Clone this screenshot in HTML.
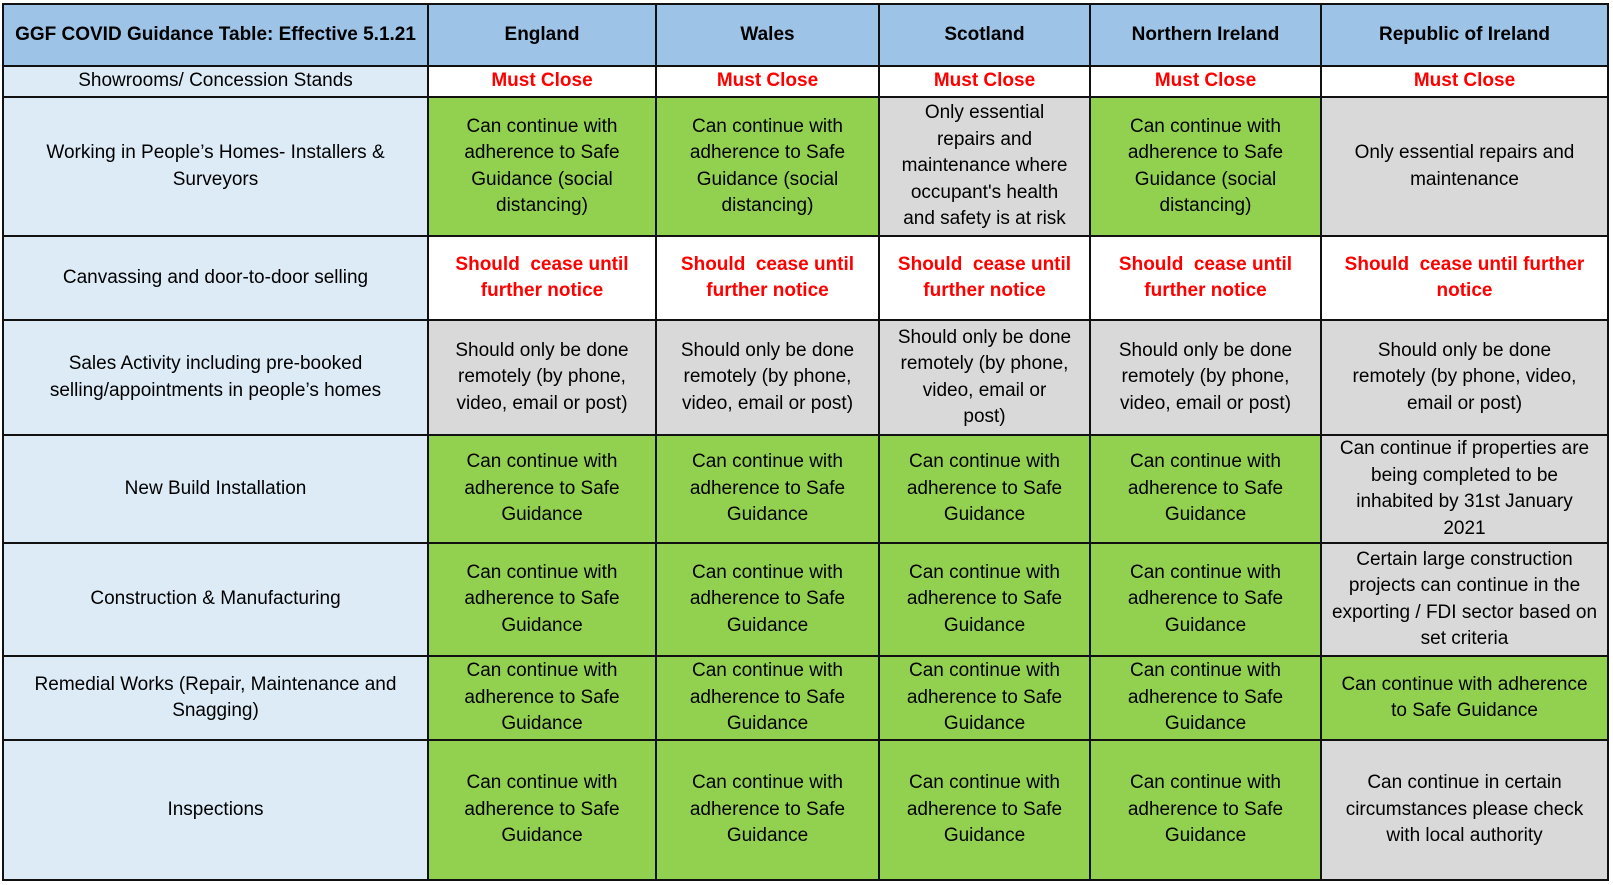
<!DOCTYPE html>
<html><head><meta charset="utf-8"><style>
html,body{margin:0;padding:0;background:#fff;width:1613px;height:885px;overflow:hidden}
table{position:absolute;left:2px;top:3px;border-collapse:collapse;table-layout:fixed;font-family:"Liberation Sans",sans-serif;font-size:19px;line-height:26.5px;color:#000}
td{border:2px solid #111;text-align:center;vertical-align:middle;padding:0 9px;overflow:hidden}
td.n{white-space:nowrap;padding:0 2px}
.h{background:#9dc3e6;font-weight:bold}
.f{background:#ddebf7}
.g{background:#92d050}
.y{background:#d9d9d9}
.w{background:#fff}
.r{color:#f00;font-weight:bold}
</style></head><body>
<table>
<colgroup><col style="width:425px"><col style="width:228px"><col style="width:223px"><col style="width:211px"><col style="width:231px"><col style="width:287px"></colgroup>
<tr style="height:62px"><td class="h">GGF COVID Guidance Table: Effective 5.1.21</td><td class="h">England</td><td class="h">Wales</td><td class="h">Scotland</td><td class="h">Northern Ireland</td><td class="h">Republic of Ireland</td></tr>
<tr style="height:31px"><td class="f">Showrooms/ Concession Stands</td><td class="w r">Must Close</td><td class="w r">Must Close</td><td class="w r">Must Close</td><td class="w r">Must Close</td><td class="w r">Must Close</td></tr>
<tr style="height:139px"><td class="f">Working in People’s Homes- Installers &amp; Surveyors</td><td class="g">Can continue with adherence to Safe Guidance (social distancing)</td><td class="g">Can continue with adherence to Safe Guidance (social distancing)</td><td class="y n">Only essential<br>repairs and<br>maintenance where<br>occupant's health<br>and safety is at risk</td><td class="g">Can continue with adherence to Safe Guidance (social distancing)</td><td class="y">Only essential repairs and maintenance</td></tr>
<tr style="height:84px"><td class="f">Canvassing and door-to-door selling</td><td class="w r">Should&nbsp; cease until further notice</td><td class="w r">Should&nbsp; cease until further notice</td><td class="w r">Should&nbsp; cease until further notice</td><td class="w r">Should&nbsp; cease until further notice</td><td class="w r">Should&nbsp; cease until further notice</td></tr>
<tr style="height:115px"><td class="f">Sales Activity including pre-booked selling/appointments in people’s homes</td><td class="y">Should only be done remotely (by phone, video, email or post)</td><td class="y">Should only be done remotely (by phone, video, email or post)</td><td class="y n">Should only be done<br>remotely (by phone,<br>video, email or<br>post)</td><td class="y">Should only be done remotely (by phone, video, email or post)</td><td class="y n">Should only be done<br>remotely (by phone, video,<br>email or post)</td></tr>
<tr style="height:108px"><td class="f">New Build Installation</td><td class="g">Can continue with adherence to Safe Guidance</td><td class="g">Can continue with adherence to Safe Guidance</td><td class="g">Can continue with adherence to Safe Guidance</td><td class="g">Can continue with adherence to Safe Guidance</td><td class="y n">Can continue if properties are<br>being completed to be<br>inhabited by 31st January<br>2021</td></tr>
<tr style="height:113px"><td class="f">Construction &amp; Manufacturing</td><td class="g">Can continue with adherence to Safe Guidance</td><td class="g">Can continue with adherence to Safe Guidance</td><td class="g">Can continue with adherence to Safe Guidance</td><td class="g">Can continue with adherence to Safe Guidance</td><td class="y">Certain large construction projects can continue in the exporting / FDI sector based on set criteria</td></tr>
<tr style="height:84px"><td class="f">Remedial Works (Repair, Maintenance and Snagging)</td><td class="g">Can continue with adherence to Safe Guidance</td><td class="g">Can continue with adherence to Safe Guidance</td><td class="g">Can continue with adherence to Safe Guidance</td><td class="g">Can continue with adherence to Safe Guidance</td><td class="g n">Can continue with adherence<br>to Safe Guidance</td></tr>
<tr style="height:140px"><td class="f">Inspections</td><td class="g">Can continue with adherence to Safe Guidance</td><td class="g">Can continue with adherence to Safe Guidance</td><td class="g">Can continue with adherence to Safe Guidance</td><td class="g">Can continue with adherence to Safe Guidance</td><td class="y">Can continue in certain circumstances please check with local authority</td></tr>
</table>
</body></html>
